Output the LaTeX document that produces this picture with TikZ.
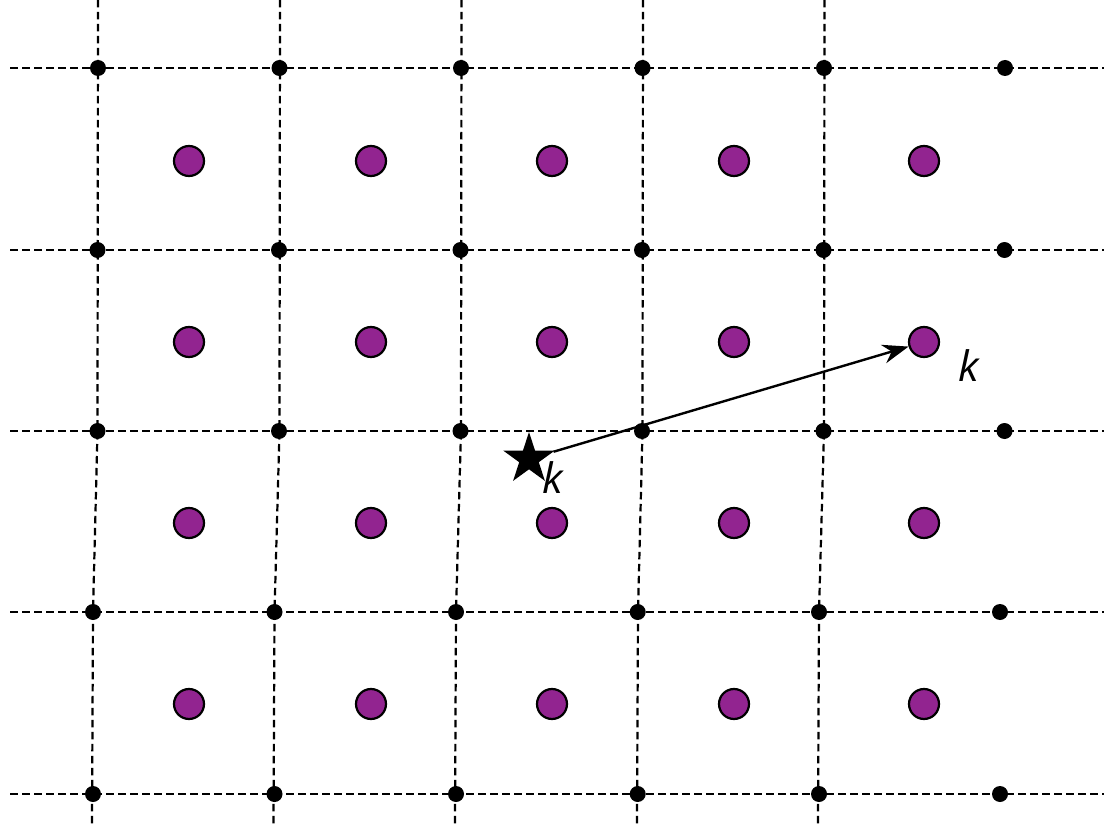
\documentclass[tikz,border=0pt]{standalone}
\usepackage{fontspec}
\setmainfont{Open Sans}
\usetikzlibrary{shapes.geometric,arrows.meta}
\definecolor{atom}{RGB}{146,36,144}
\begin{document}
\begin{tikzpicture}[x=1pt,y=-1pt,
 gridline/.style={line width=2.2pt, dash pattern=on 7.5pt off 4.5pt},
 latt/.style={circle, fill=black, inner sep=0pt, minimum size=16pt},
 atomdot/.style={circle, fill=atom, draw=black, line width=2.2pt, inner sep=0pt, minimum size=30pt},
 lbl/.style={font=\fontsize{42}{50}\selectfont\itshape, inner sep=0pt},
 vec/.style={line width=2.4pt, -{Stealth[length=26pt,width=19pt]}}]
\useasboundingbox (0,0) rectangle (1104,824);
% horizontal grid lines
\foreach \y in {68,250,431,612,794}
  \draw[gridline] (10,\y) -- (1104,\y);
% vertical grid lines
\foreach \xt/\xb in {98/93, 280/274.5, 461.5/456, 643/638, 824.5/819}
  \draw[gridline] (\xt,0) -- (\xt-0.5,431) -- (\xb,612) -- (\xb-1,824);
% lattice points
\foreach \x [count=\c] in {98,279.5,461,642.5,824,1005} {
  \node[latt] (d1\c) at (\x,68) {};
  \node[latt] (d2\c) at (\x-0.5,250) {};
  \node[latt] (d3\c) at (\x-0.5,431) {};
}
\foreach \x [count=\c] in {93,274.5,456,637.7,819,1000} {
  \node[latt] (d4\c) at (\x,612) {};
  \node[latt] (d5\c) at (\x,794) {};
}
% atoms
\foreach \x [count=\c] in {189,371,552,734,924}
  \foreach \y [count=\r] in {161,342,523,704}
    \node[atomdot] (a\r\c) at (\x,\y) {};
% star and vector
\node[star, star points=5, star point ratio=2.618, fill=black, inner sep=0pt, minimum size=54pt] (st) at (529,459) {};
\draw[vec] (st) -- (a25);
\node[lbl] (k1) at (553,478) {k};
\node[lbl] (k2) at (969,366) {k};
\end{tikzpicture}
\end{document}
